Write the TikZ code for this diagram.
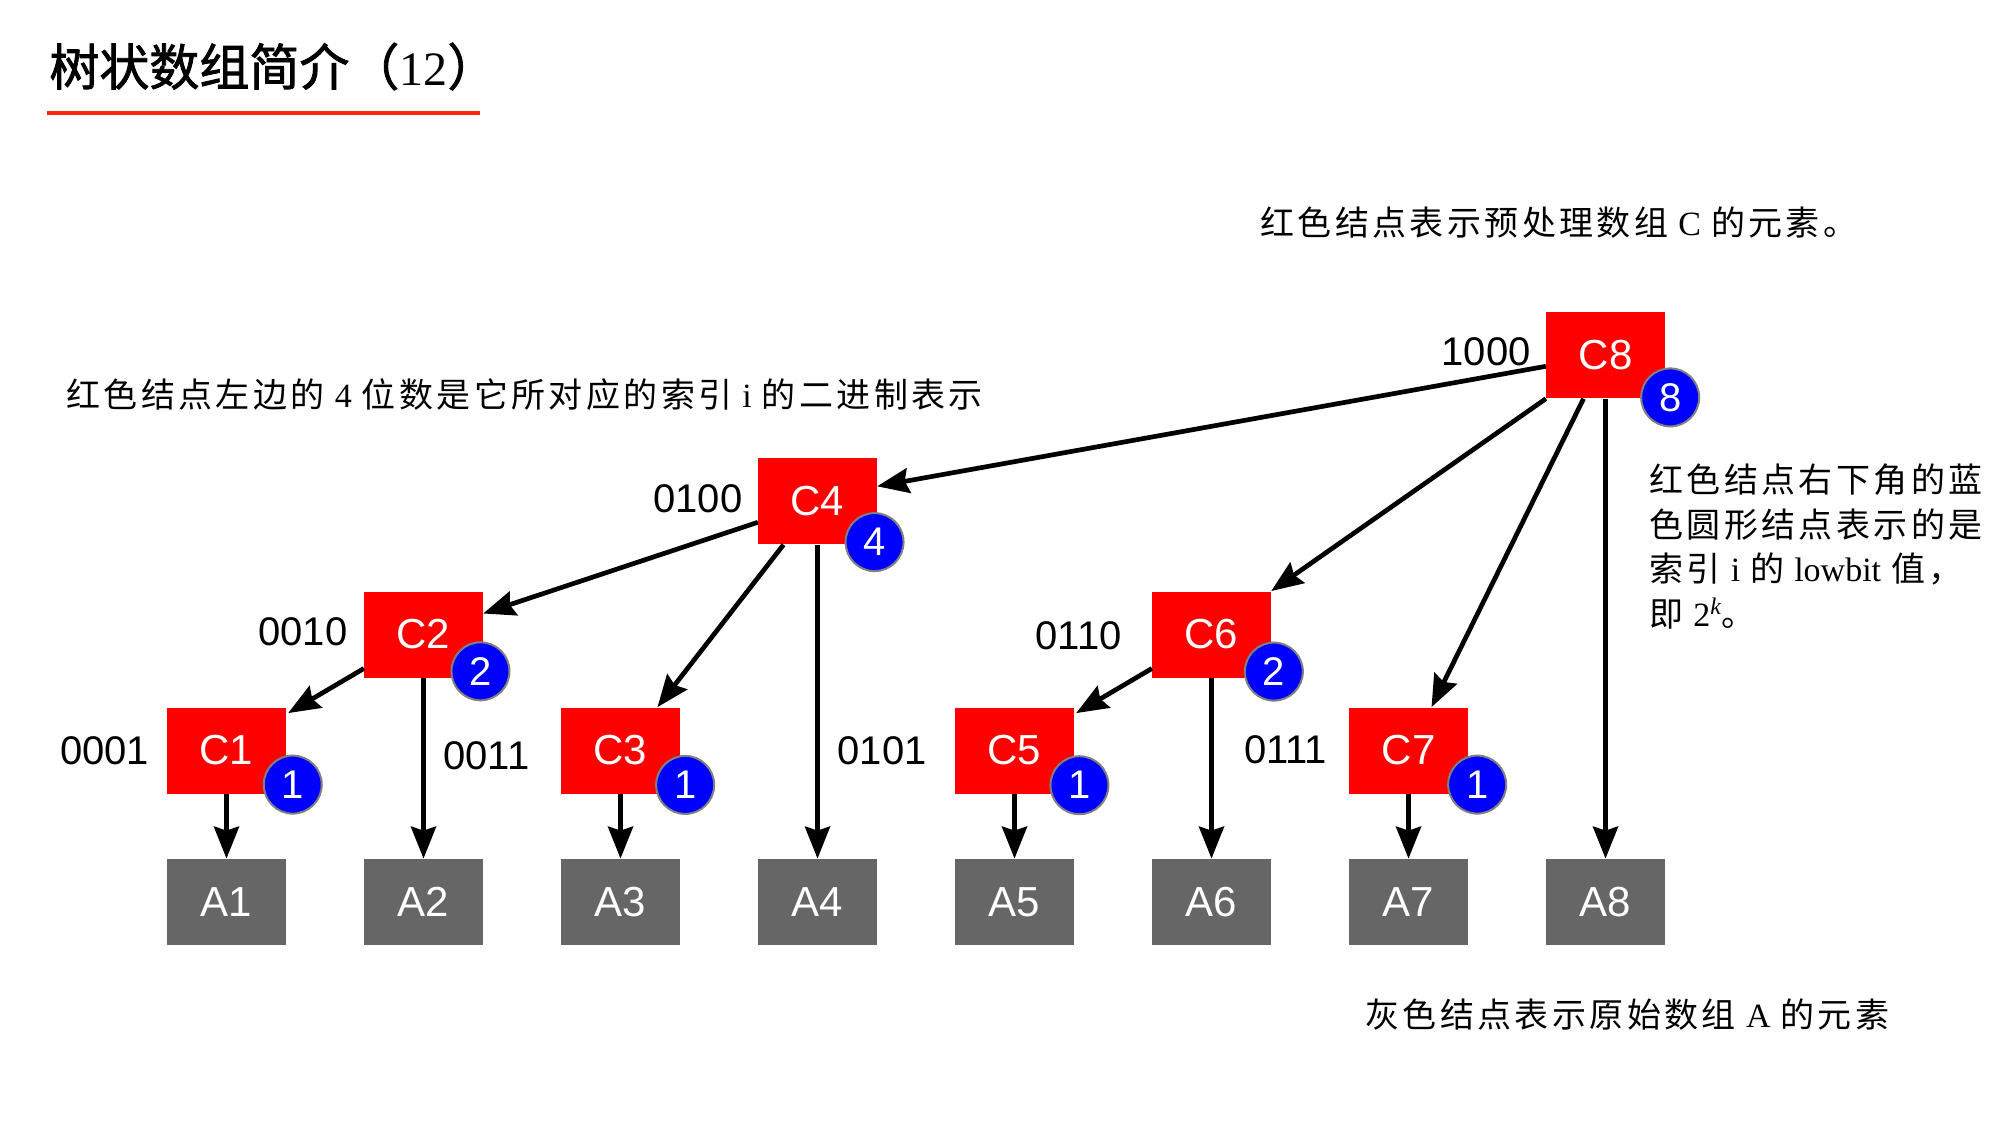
\documentclass[tikz,border=0pt]{standalone}
\usepackage{fontspec}
\setmainfont{Liberation Serif}
\newfontfamily\cjk[LetterSpace=10]{Noto Sans CJK SC}
\newfontfamily\cjkhead[FakeBold=1.6]{Noto Sans CJK SC}
\newfontfamily\helv{Liberation Sans}
\usetikzlibrary{arrows.meta,calc}
\definecolor{nodered}{RGB}{255,0,0}
\definecolor{nodegray}{RGB}{102,102,102}
\definecolor{badgeblue}{RGB}{0,0,255}
\definecolor{badgerim}{RGB}{128,128,128}
\definecolor{titlered}{RGB}{255,40,0}
\newcommand{\gp}{\hspace{5pt}}

\begin{document}
\begin{tikzpicture}[x=0.5pt,y=-0.5pt,
  cbox/.style={fill=nodered, minimum width=59.25pt, minimum height=43pt,
    inner sep=0pt, text=white, font=\helv\fontsize{21}{21}\selectfont},
  abox/.style={cbox, fill=nodegray},
  badge/.style={circle, fill=badgeblue, draw=badgerim, line width=1pt,
    minimum size=29pt, inner sep=0pt, text=white,
    font=\helv\fontsize{20}{20}\selectfont},
  binlabel/.style={inner sep=0pt, font=\helv\fontsize{20}{20}\selectfont},
  note/.style={inner sep=0pt, anchor=west, font=\fontsize{17}{17}\selectfont},
  link/.style={line width=2.35pt, -{Stealth[length=16pt,width=12.5pt,inset=2pt]}},
]
\useasboundingbox (0,0) rectangle (2000,1125);

% title and its underline
\node[inner sep=0pt, anchor=west] (title) at (49,66.5)
  {\cjkhead\fontsize{25}{25}\selectfont 树状数组简介（{\rmfamily\fontsize{24}{24}\selectfont 12}）};
\draw[titlered, line width=2.35pt] (47,113) -- (480,113);

% preprocessed array C
\node[cbox] (C1) at (226.5,750.5) {C1};
\node[cbox] (C2) at (423.5,634.5) {C2};
\node[cbox] (C3) at (620.5,750.5) {C3};
\node[cbox] (C4) at (817.5,501.3) {C4};
\node[cbox] (C5) at (1014.5,750.5) {C5};
\node[cbox] (C6) at (1211.5,634.5) {C6};
\node[cbox] (C7) at (1408.5,750.5) {C7};
\node[cbox] (C8) at (1605.5,355.3) {C8};

% original array A
\foreach \i in {1,...,8}
  \node[abox] (A\i) at ({226.5+197*(\i-1)},902) {A\i};

% binary index labels
\node[binlabel] (l1) at (104.5,751) {0001};
\node[binlabel] (l2) at (303,632) {0010};
\node[binlabel] (l3) at (486.3,755.7) {0011};
\node[binlabel] (l4) at (698,499) {0100};
\node[binlabel] (l5) at (882,751) {0101};
\node[binlabel] (l6) at (1078.7,635.7) {0110};
\node[binlabel] (l7) at (1285.7,750) {0111};
\node[binlabel] (l8) at (1486,351.7) {1000};

% tree edges
\draw[link] ($(C8.west)+(0,11)$) -- ($(C4.east)+(0,-15)$);
\draw[link] (C8.south west) -- (C6.north east);
\draw[link] ($(C8.south)+(-22,0)$) -- ($(C7.north)+(23,0)$);
\draw[link] (C8.south) -- (A8.north);
\draw[link] ($(C4.west)+(0,21)$) -- ($(C2.east)+(0,-21)$);
\draw[link] ($(C4.south)+(-34,0)$) -- ($(C3.north)+(37,0)$);
\draw[link] (C4.south) -- (A4.north);
\draw[link] ($(C2.west)+(0,34)$) -- ($(C1.north east)+(2,6)$);
\draw[link] (C2.south) -- (A2.north);
\draw[link] ($(C6.west)+(0,34)$) -- ($(C5.north east)+(2,6)$);
\draw[link] (C6.south) -- (A6.north);
\draw[link] (C1.south) -- (A1.north);
\draw[link] (C3.south) -- (A3.north);
\draw[link] (C5.south) -- (A5.north);
\draw[link] (C7.south) -- (A7.north);

% lowbit badges
\node[badge] (b1) at ($(C1.south east)+(6.6,-9.3)$) {1};
\node[badge] (b2) at ($(C2.south east)+(-2.7,-6.6)$) {2};
\node[badge] (b3) at ($(C3.south east)+(5,-9)$) {1};
\node[badge] (b4) at ($(C4.south east)+(-2.6,-2.6)$) {4};
\node[badge] (b5) at ($(C5.south east)+(5.3,-8.7)$) {1};
\node[badge] (b6) at ($(C6.south east)+(2.7,-6.3)$) {2};
\node[badge] (b7) at ($(C7.south east)+(9,-9.3)$) {1};
\node[badge] (b8) at ($(C8.south east)+(5,-1.3)$) {8};

% explanatory notes
\node[note] (n1) at (1260,223)
  {{\cjk 红色结点表示预处理数组}\gp C\gp{\cjk 的元素。}};
\node[note] (n2) at (66,395)
  {{\cjk 红色结点左边的}\gp 4\gp{\cjk 位数是它所对应的索引}\gp i\gp{\cjk 的二进制表示}};
\node[note] (n3a) at (1649,480) {{\cjk 红色结点右下角的蓝}};
\node[note] (n3b) at (1649,524.6) {{\cjk 色圆形结点表示的是}};
\node[note] (n3c) at (1649,569.2)
  {{\cjk 索引}\gp i\gp{\cjk 的}\gp lowbit\gp{\cjk 值，}};
\node[note] (n3d) at (1649,613.8)
  {{\cjk 即}\gp 2\textsuperscript{\itshape k}{\cjk 。}};
\node[note] (n4) at (1365,1015)
  {{\cjk 灰色结点表示原始数组}\gp A\gp{\cjk 的元素}};
\end{tikzpicture}
\end{document}
